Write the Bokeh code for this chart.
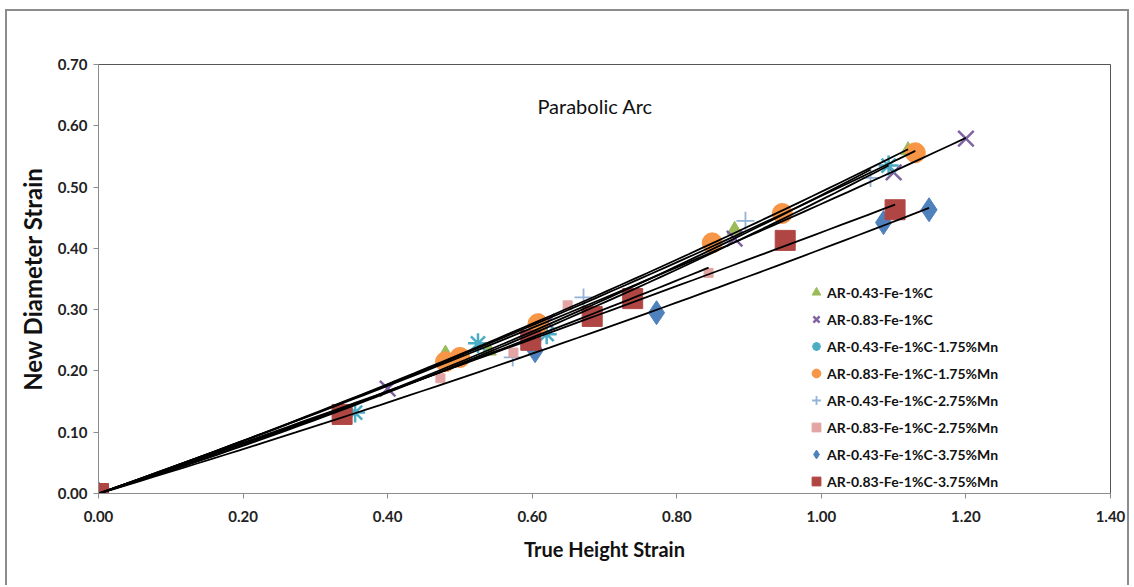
import numpy as np
from bokeh.plotting import figure
from bokeh.models import Range1d, Legend, LegendItem, Label, FixedTicker, NumeralTickFormatter
from bokeh.embed import file_html
from bokeh.resources import INLINE

# ---- data ----
names = ["AR-0.43-Fe-1%C", "AR-0.83-Fe-1%C", "AR-0.43-Fe-1%C-1.75%Mn", "AR-0.83-Fe-1%C-1.75%Mn",
         "AR-0.43-Fe-1%C-2.75%Mn", "AR-0.83-Fe-1%C-2.75%Mn", "AR-0.43-Fe-1%C-3.75%Mn", "AR-0.83-Fe-1%C-3.75%Mn"]

x_a043 = [0.0, 0.48, 0.54, 0.88, 1.12]
y_a043 = [0.0, 0.228, 0.233, 0.43, 0.56]

x_a083 = [0.0, 0.40, 0.62, 0.88, 1.10, 1.20]
y_a083 = [0.0, 0.171, 0.28, 0.416, 0.524, 0.579]

x_a043_175 = [0.0, 0.355, 0.525, 0.62, 1.093]
y_a043_175 = [0.0, 0.132, 0.245, 0.26, 0.535]

x_a083_175 = [0.0, 0.48, 0.50, 0.608, 0.849, 0.946, 1.13]
y_a083_175 = [0.0, 0.215, 0.222, 0.277, 0.409, 0.457, 0.556]

x_a043_275 = [0.0, 0.573, 0.671, 0.895, 1.068]
y_a043_275 = [0.0, 0.222, 0.32, 0.445, 0.515]

x_a083_275 = [0.0, 0.473, 0.574, 0.649, 0.844]
y_a083_275 = [0.0, 0.188, 0.23, 0.307, 0.36]

x_a043_375 = [0.0, 0.604, 0.772, 1.086, 1.149]
y_a043_375 = [0.0, 0.233, 0.295, 0.442, 0.463]

x_a083_375 = [0.0, 0.337, 0.598, 0.683, 0.739, 0.95, 1.102]
y_a083_375 = [0.0, 0.129, 0.25, 0.289, 0.318, 0.413, 0.463]

xs_all = [x_a043, x_a083, x_a043_175, x_a083_175, x_a043_275, x_a083_275, x_a043_375, x_a083_375]
ys_all = [y_a043, y_a083, y_a043_175, y_a083_175, y_a043_275, y_a083_275, y_a043_375, y_a083_375]

x_ticks = [0.0, 0.2, 0.4, 0.6, 0.8, 1.0, 1.2, 1.4]
y_ticks = [0.0, 0.1, 0.2, 0.3, 0.4, 0.5, 0.6, 0.7]

# ---- styles ----
markers = ["triangle", "x", "asterisk", "circle", "cross", "square", "diamond", "square"]
colors = ["#9BBB59", "#8064A2", "#4BACC6", "#F79646", "#95B3D7", "#E2A5A3", "#4F81BD", "#B04643"]
sizes = [15, 22, 20, 20, 18, 9, 24, 20]
lwidths = [1, 2.5, 2.5, 1, 1.8, 1, 1, 1]

FONT = "Lato"

p = figure(width=1124, height=576, output_backend="svg", toolbar_location=None,
           x_range=Range1d(0, 1.4), y_range=Range1d(0, 0.7),
           min_border_left=91, min_border_right=21, min_border_top=53, min_border_bottom=94)
p.styles = {"margin-left": "5px", "margin-top": "9px",
            "border-top": "2px solid #8c8c8c", "border-left": "2px solid #8c8c8c",
            "border-right": "2px solid #8c8c8c"}

p.xgrid.visible = False
p.ygrid.visible = False
p.outline_line_color = "#555555"
p.outline_line_width = 1
p.background_fill_color = "white"
p.border_fill_color = "white"

for ax, ticks in ((p.xaxis[0], x_ticks), (p.yaxis[0], y_ticks)):
    ax.ticker = FixedTicker(ticks=ticks)
    ax.formatter = NumeralTickFormatter(format="0.00")
    ax.axis_line_color = "#8c8c8c"
    ax.major_tick_line_color = "#8c8c8c"
    ax.major_tick_in = 0
    ax.major_tick_out = 5
    ax.minor_tick_line_color = None
    ax.major_label_text_font = FONT
    ax.major_label_text_font_style = "bold"
    ax.major_label_text_font_size = "15px"
    ax.major_label_text_color = "#222222"
    ax.axis_label_text_font = FONT
    ax.axis_label_text_font_style = "bold"
    ax.axis_label_text_color = "#111111"

p.xaxis.axis_label = "True Height Strain"
p.xaxis.axis_label_text_font_size = "20px"
p.xaxis.major_label_standoff = 12
p.xaxis.axis_label_standoff = 12
p.yaxis.axis_label = "New Diameter Strain"
p.yaxis.axis_label_text_font_size = "24px"
p.yaxis.major_label_standoff = 6
p.yaxis.axis_label_standoff = 8

items = []
for i in range(8):
    xv = np.array(xs_all[i])
    yv = np.array(ys_all[i])
    r = p.scatter(xv, yv, marker=markers[i], size=sizes[i], fill_color=colors[i],
                  line_color=colors[i], line_width=lwidths[i], fill_alpha=1.0)
    items.append(LegendItem(label=names[i], renderers=[r]))

# parabolic (2nd order, through origin) trend lines
for i in range(8):
    xv = np.array(xs_all[i])
    yv = np.array(ys_all[i])
    A = np.column_stack([xv, xv ** 2])
    coef, *_ = np.linalg.lstsq(A, yv, rcond=None)
    xx = np.linspace(0, xv.max(), 60)
    p.line(xx, coef[0] * xx + coef[1] * xx ** 2, line_color="black", line_width=1.8)

legend = Legend(items=items, location=(707, 1), orientation="vertical",
                background_fill_alpha=0, border_line_color=None,
                label_text_font=FONT, label_text_font_style="bold", label_text_font_size="14px",
                label_text_color="#111111",
                glyph_width=22, glyph_height=22, label_height=20, label_standoff=0,
                spacing=5, padding=5, margin=0)
p.add_layout(legend, "center")

p.add_layout(Label(x=0.687, y=0.633, text="Parabolic Arc", text_align="center",
                   text_baseline="middle", text_font=FONT, text_font_size="20px",
                   text_color="#111111"))

open("out.html", "w").write(file_html(p, INLINE))
